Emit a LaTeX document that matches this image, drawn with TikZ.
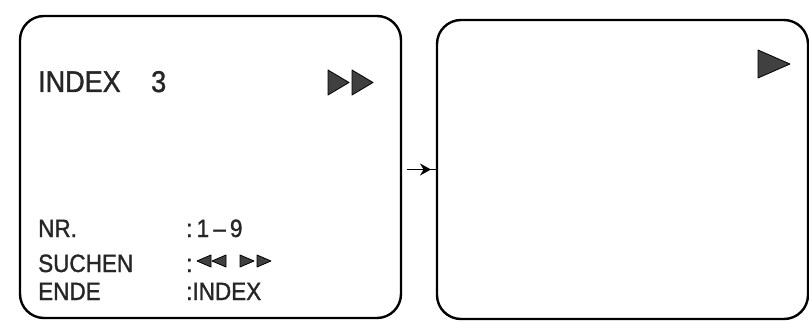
\documentclass[tikz,border=0pt]{standalone}
\usepackage{fontspec}
\setmainfont{Liberation Sans}
\newfontfamily\osd[FakeStretch=0.9,FakeBold=1.2]{Liberation Sans}
\usetikzlibrary{arrows.meta}
\tikzset{
  screen/.style={draw=black, line width=2.4pt, rounded corners=24pt, inner sep=0pt},
  bigtxt/.style={inner sep=0pt, anchor=base west, text=black!85, font=\osd\fontsize{30}{30}\selectfont},
  smalltxt/.style={inner sep=0pt, anchor=base west, text=black!85, font=\osd\fontsize{25}{25}\selectfont},
  tri/.style={fill=black!75, draw=black, line width=0.8pt, line join=round},
  conn/.style={line width=1.6pt, draw=black}
}
\begin{document}
\begin{tikzpicture}[x=1pt,y=-1pt]
\useasboundingbox (0,0) rectangle (809,321);
\fill[white] (0,0) rectangle (809,321);
% screens
\node[screen, minimum width=381pt, minimum height=302pt] (L) at (210.5,167) {};
\node[screen, minimum width=371pt, minimum height=299pt] (R) at (622.5,169.5) {};
% left screen texts
\node[bigtxt] (t1) at (38,92) {INDEX};
\node[bigtxt] (t2) at (151,92) {3};
\draw[tri] (328,70) -- (349,82.5) -- (328,95) -- cycle;
\draw[tri] (352,70) -- (373,82.5) -- (352,95) -- cycle;
\node[smalltxt] (nr) at (38,237) {NR.};
\node[smalltxt] (su) at (38,272) {SUCHEN};
\node[smalltxt] (en) at (38,300) {ENDE};
\node[smalltxt] (v1) at (186,237) {:\,1\,–\,9};
\node[smalltxt] (v2) at (186,272) {:};
\node[smalltxt] (v3) at (186,300) {:INDEX};
\draw[tri] (211,255) -- (197,261) -- (211,267) -- cycle;
\draw[tri] (226,255) -- (212,261) -- (226,267) -- cycle;
\draw[tri] (240,255) -- (254,261) -- (240,267) -- cycle;
\draw[tri] (257,255) -- (271,261) -- (257,267) -- cycle;
% right screen symbol
\draw[tri] (758,50) -- (790,64) -- (758,78) -- cycle;
% connector
\coordinate (a) at (407,169.5);
\coordinate (h) at (431,169.5);
\draw[conn] (a) -- (R.west);
\draw[conn, -{Stealth[length=11pt,width=12pt]}] (a) -- (h);
\end{tikzpicture}
\end{document}
